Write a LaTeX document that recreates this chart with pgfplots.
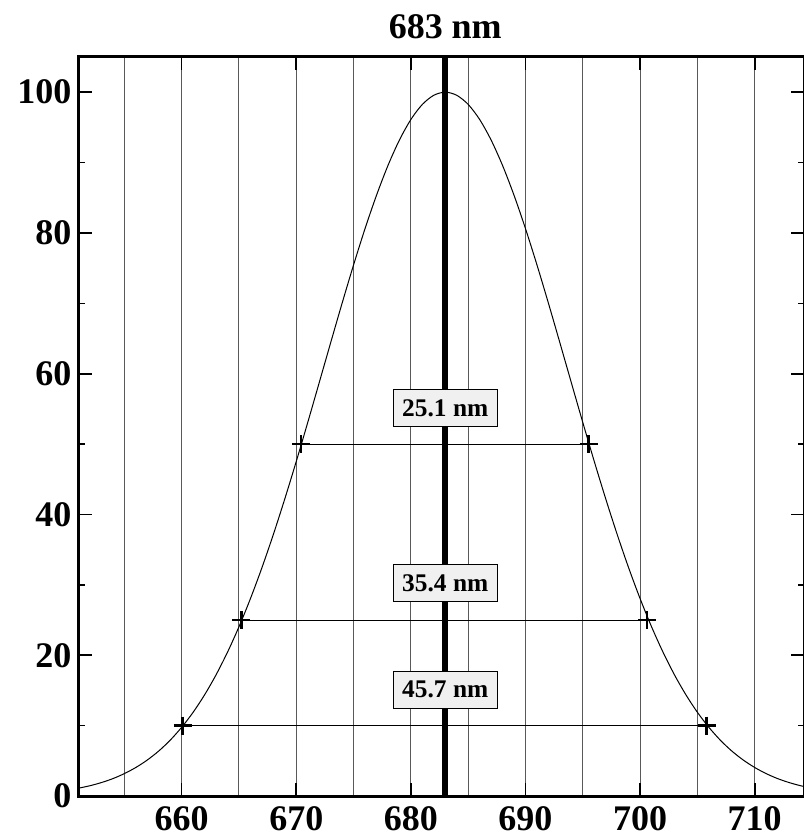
\documentclass[border=0pt]{standalone}
\usepackage{fontspec}
\setmainfont{Liberation Serif}
\usepackage{pgfplots}
\pgfplotsset{compat=1.18}
\begin{document}
\begin{tikzpicture}
\begin{axis}[
  name=ax,
  scale only axis,
  width=362.75pt, height=369.5pt,
  xmin=651, xmax=714.3, ymin=0, ymax=105,
  axis line style={line width=1.5pt},
  xtick={660,670,...,710},
  minor xtick={655,665,...,705},
  ytick={0,20,...,100},
  minor ytick={10,30,...,90},
  tick align=inside,
  major tick length=6.5pt, minor tick length=3pt,
  xmajorgrids, xminorgrids,
  major grid style={black!65, line width=0.5pt},
  minor grid style={black!65, line width=0.5pt},
  major tick style={black, line width=0.8pt},
  minor x tick style={draw=none},
  minor y tick style={black, line width=0.8pt},
  ticklabel style={font=\fontsize{18}{18}\selectfont\bfseries},
  /pgf/number format/assume math mode=true,
  xticklabel style={yshift=-1.5pt},
]
\addplot[black, smooth, line width=0.5pt] coordinates {
(651,1.11) (652,1.46) (653,1.91) (654,2.47) (655,3.18) (656,4.05) (657,5.11) (658,6.39)
(659,7.93) (660,9.76) (661,11.89) (662,14.37) (663,17.21) (664,20.43) (665,24.04) (666,28.04)
(667,32.42) (668,37.16) (669,42.22) (670,47.54) (671,53.07) (672,58.72) (673,64.40) (674,70.02)
(675,75.46) (676,80.61) (677,85.35) (678,89.58) (679,93.20) (680,96.12) (681,98.26) (682,99.56)
(683,100) (684,99.56) (685,98.26) (686,96.12) (687,93.20) (688,89.58) (689,85.35) (690,80.61)
(691,75.46) (692,70.02) (693,64.40) (694,58.72) (695,53.07) (696,47.54) (697,42.22) (698,37.16)
(699,32.42) (700,28.04) (701,24.04) (702,20.43) (703,17.21) (704,14.37) (705,11.89) (706,9.76)
(707,7.93) (708,6.39) (709,5.11) (710,4.05) (711,3.18) (712,2.47) (713,1.91) (714,1.46) (715,1.11)
};
\addplot[black, line width=3pt] coordinates {(683,0) (683,105)};
\addplot[black, line width=0.5pt, mark=+, mark size=4.5pt, mark options={line width=1.3pt}] coordinates {(670.4,50) (695.5,50)};
\addplot[black, line width=0.5pt, mark=+, mark size=4.5pt, mark options={line width=1.3pt}] coordinates {(665.2,25) (700.6,25)};
\addplot[black, line width=0.5pt, mark=+, mark size=4.5pt, mark options={line width=1.3pt}] coordinates {(660.1,10) (705.8,10)};
\end{axis}
\begin{axis}[
  scale only axis, at={(ax.south west)}, anchor=south west,
  width=362.75pt, height=369.5pt,
  xmin=651, xmax=714.3, ymin=0, ymax=105,
  hide axis, clip=false,
]
\node[draw=black, line width=0.5pt, fill=black!6, font=\fontsize{12.7}{12.7}\selectfont\bfseries, inner xsep=4.5pt, minimum height=18.5pt] at (axis cs:683,55.1) {25.1 nm};
\node[draw=black, line width=0.5pt, fill=black!6, font=\fontsize{12.7}{12.7}\selectfont\bfseries, inner xsep=4.5pt, minimum height=18.5pt] at (axis cs:683,30.2) {35.4 nm};
\node[draw=black, line width=0.5pt, fill=black!6, font=\fontsize{12.7}{12.7}\selectfont\bfseries, inner xsep=4.5pt, minimum height=18.5pt] at (axis cs:683,15.1) {45.7 nm};
\node[font=\fontsize{18}{18}\selectfont\bfseries] at (axis cs:683,105) [yshift=15pt] {683 nm};
\end{axis}
\pgfresetboundingbox
\useasboundingbox ([xshift=-39.25pt,yshift=-21pt]ax.south west) rectangle ([yshift=28.5pt]ax.north east);
\end{tikzpicture}
\end{document}
